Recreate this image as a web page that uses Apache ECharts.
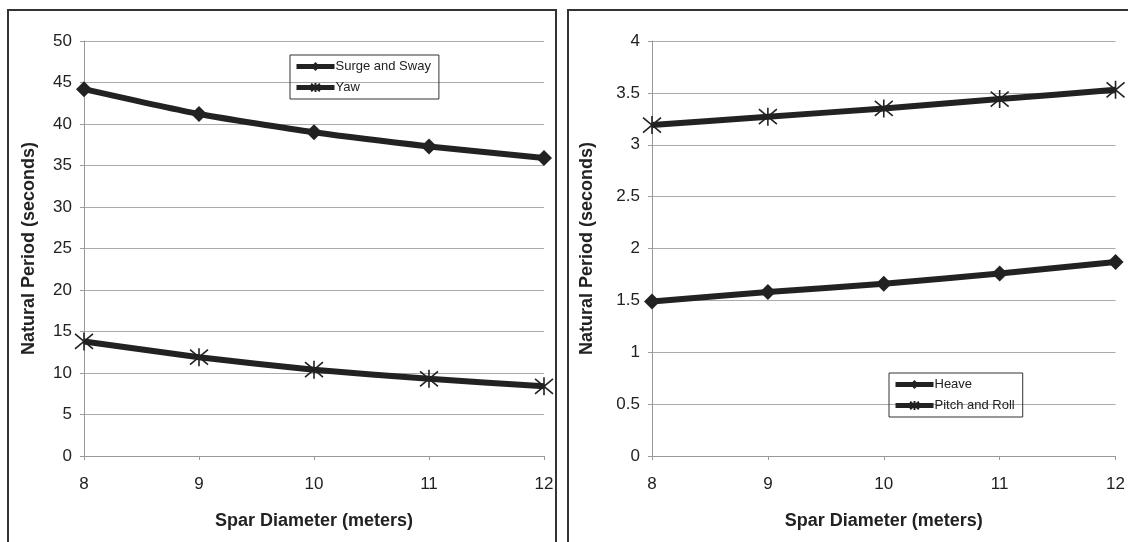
<!DOCTYPE html>
<html><head><meta charset="utf-8">
<script src="https://cdn.jsdelivr.net/npm/echarts@6/dist/echarts.min.js"></script>
<style>html,body{margin:0;padding:0;background:#fff}#c{width:1128px;height:542px}</style>
</head><body><div id="c"></div>
<script>
const diameters = [8, 9, 10, 11, 12];
const surgeSway = [44.2, 41.2, 39.0, 37.3, 35.9];
const yaw = [13.8, 11.9, 10.4, 9.3, 8.4];
const heave = [1.49, 1.58, 1.66, 1.76, 1.87];
const pitchRoll = [3.19, 3.27, 3.35, 3.44, 3.53];
const xTitle = 'Spar Diameter (meters)';
const yTitle = 'Natural Period (seconds)';

const ASTER = 'path://M0,0 L10,10 M10,0 L0,10 M5,-1 L5,11';
const ink = '#222';
const font = 'Liberation Sans, Arial, sans-serif';
const pairs = a => diameters.map((d, i) => [d, a[i]]);

function xAx(gi) {
  return {
    type: 'value', gridIndex: gi, min: 8, max: 12, interval: 1,
    name: xTitle, nameLocation: 'middle', nameGap: 56,
    nameTextStyle: {fontFamily: font, fontSize: 18, fontWeight: 'bold', color: ink},
    axisLine: {show: true, lineStyle: {color: '#999', width: 1}},
    axisTick: {show: true, length: 4, lineStyle: {color: '#999'}},
    axisLabel: {fontFamily: font, fontSize: 17, color: ink, margin: 20},
    splitLine: {show: false}
  };
}
function yAx(gi, max, interval, gap) {
  return {
    type: 'value', gridIndex: gi, min: 0, max: max, interval: interval,
    name: yTitle, nameLocation: 'middle', nameGap: gap,
    nameTextStyle: {fontFamily: font, fontSize: 18, fontWeight: 'bold', color: ink},
    axisLine: {show: true, lineStyle: {color: '#999', width: 1}},
    axisTick: {show: true, length: 4, lineStyle: {color: '#999'}},
    axisLabel: {fontFamily: font, fontSize: 17, color: ink, margin: 12},
    splitLine: {show: true, lineStyle: {color: '#aaa', width: 1}}
  };
}
function ser(name, data, xi, marker) {
  const isA = marker === 'aster';
  return {
    name: name, type: 'line', xAxisIndex: xi, yAxisIndex: xi,
    data: pairs(data), smooth: 0.2,
    symbol: isA ? ASTER : 'diamond', symbolSize: isA ? 18 : 16,
    lineStyle: {color: ink, width: 6},
    itemStyle: isA ? {color: '#fff', borderColor: ink, borderWidth: 1.6} : {color: ink},
    emphasis: {disabled: true}, z: 3
  };
}
function leg(names, left, top) {
  return {data: names, orient: 'vertical', left: left, top: top,
    borderColor: '#333', borderWidth: 1, borderRadius: 0, padding: [5, 8, 5, 4], itemGap: 8,
    itemWidth: 38, itemHeight: 11, lineStyle: {width: 5},
    textStyle: {fontFamily: font, fontSize: 13, color: ink, padding: [0, 0, 0, -4]}};
}

const chart = echarts.init(document.getElementById('c'));
chart.setOption({
  animation: false,
  backgroundColor: '#fff',
  grid: [
    {left: 84, right: 584, top: 41, bottom: 86},
    {left: 652, right: 8, top: 41, bottom: 86}
  ],
  xAxis: [xAx(0), xAx(1)],
  yAxis: [yAx(0, 50, 5, 46), yAx(1, 4, 0.5, 56)],
  legend: [
    leg(['Surge and Sway', 'Yaw'], 290, 55),
    leg(['Heave', 'Pitch and Roll'], 889, 373)
  ],
  graphic: [
    {type: 'rect', shape: {x: 8, y: 10, width: 548, height: 545}, style: {fill: 'none', stroke: '#333', lineWidth: 2}, z: 0},
    {type: 'rect', shape: {x: 568, y: 10, width: 580, height: 545}, style: {fill: 'none', stroke: '#333', lineWidth: 2}, z: 0}
  ],
  series: [
    ser('Surge and Sway', surgeSway, 0, 'diamond'),
    ser('Yaw', yaw, 0, 'aster'),
    ser('Heave', heave, 1, 'diamond'),
    ser('Pitch and Roll', pitchRoll, 1, 'aster')
  ]
});
</script></body></html>
